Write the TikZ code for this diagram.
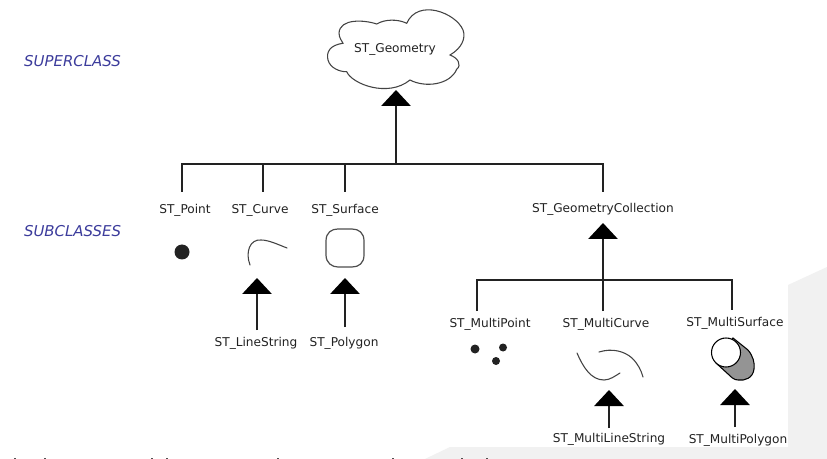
\documentclass[tikz,border=0pt]{standalone}
\usepackage{fontspec}
\setmainfont{DejaVu Sans}
\usetikzlibrary{arrows.meta}
\definecolor{inkc}{HTML}{222222}
\definecolor{headc}{HTML}{3C3C9C}
\definecolor{pagec}{HTML}{F1F1F1}
\tikzset{
  lbl/.style={font=\fontsize{9.1pt}{11pt}\selectfont, text=inkc, inner sep=0pt, anchor=center},
  head/.style={font=\fontsize{11.2pt}{13pt}\selectfont\itshape, text=headc, inner sep=0pt, anchor=center},
  bus/.style={draw=inkc, line width=1.5pt, line join=miter},
  inherit/.style={draw=inkc, line width=1.5pt, -{Triangle[width=22pt,length=12pt,color=black]}},
  shapeline/.style={draw=inkc!85, line width=0.8pt, line cap=round},
  dotm/.style={fill=inkc, draw=none},
}
\begin{document}
\begin{tikzpicture}[x=0.75pt,y=-0.75pt]
\useasboundingbox (0,0) rectangle (827,459);
\fill[white] (0,0) rectangle (827,459);
% page backdrop
\fill[pagec] (788,285) -- (827,267) -- (827,459) -- (425,459) -- (450,447) -- (788,447) -- cycle;
% section headings
\node[head] (super) at (72.5,61.5) {SUPERCLASS};
\node[head] (sub) at (72.5,231.5) {SUBCLASSES};
% cloud
\draw[draw=inkc!85, line width=0.8pt, fill=white]
  (346.7,71.7) .. controls (352,84) and (388,98) .. (410,80)
  .. controls (425,88) and (450,85) .. (456.7,69.3)
  .. controls (462,65) and (458,58) .. (450,55)
  .. controls (462,48) and (466,38) .. (463,30)
  .. controls (456,13) and (418,-2) .. (406.7,23.3)
  .. controls (398,19) and (385,19) .. (376.7,24)
  .. controls (365,20) and (340,18) .. (339,33)
  .. controls (339,38) and (342,41) .. (343,43.3)
  .. controls (330,45) and (326,52) .. (328,60)
  .. controls (330,68) and (340,72) .. (346.7,71.7) -- cycle;
\node[lbl] (geom) at (395,49) {ST\_Geometry};
% labels
\node[lbl] (point) at (185,210) {ST\_Point};
\node[lbl] (curve) at (260,210.5) {ST\_Curve};
\node[lbl] (surface) at (345,210.5) {ST\_Surface};
\node[lbl] (coll) at (603,209) {ST\_GeometryCollection};
\node[lbl] (lstr) at (256,343) {ST\_LineString};
\node[lbl] (poly) at (344,343) {ST\_Polygon};
\node[lbl] (mpoint) at (490,324) {ST\_MultiPoint};
\node[lbl] (mcurve) at (606,324) {ST\_MultiCurve};
\node[lbl] (msurf) at (735,323) {ST\_MultiSurface};
\node[lbl] (mlstr) at (609,439) {ST\_MultiLineString};
\node[lbl] (mpoly) at (738,440) {ST\_MultiPolygon};
% geometry symbols
\fill[dotm] (182,252) circle (7.5);
\draw[shapeline] (250,265) .. controls (245,252) and (250,239) .. (261,240) .. controls (269,240) and (279,245) .. (287,248);
\draw[draw=inkc!80, line width=0.9pt] (326,241) .. controls (326,232) and (332,229) .. (338,229) -- (352,229) .. controls (359,229) and (364,233) .. (364,241) -- (364,255) .. controls (364,263) and (359,267) .. (352,267) -- (338,267) .. controls (332,267) and (326,263) .. (326,255) -- cycle;
\fill[dotm] (475,349) circle (4.5);
\fill[dotm] (503,347.5) circle (4);
\fill[dotm] (496,361) circle (4);
\draw[shapeline] (577,353) .. controls (583,367) and (591,380) .. (604,380) .. controls (610,380) and (615,376) .. (620,373);
\draw[shapeline] (599,352) .. controls (612,348) and (624,351) .. (632,358) .. controls (638,364) and (641,370) .. (643,377);
\draw[draw=black, line width=0.8pt, fill=black!42] (733,338) -- (748,350) .. controls (753,356) and (755,363) .. (754,369) .. controls (753,378) and (745,381) .. (738,380) .. controls (734,380) and (731,377) .. (728,374) -- (716,363) -- cycle;
\draw[draw=black, line width=0.8pt, fill=white] (726,352.5) circle (14.5);
% tree coordinates
\coordinate (b1a) at (182,164);
\coordinate (b1b) at (263,164);
\coordinate (b1c) at (345,164);
\coordinate (b1d) at (603,164);
\coordinate (b1m) at (396,164);
\coordinate (d1a) at (182,192);
\coordinate (d1b) at (263,192);
\coordinate (d1c) at (345,192);
\coordinate (d1d) at (603,192);
\coordinate (tipg) at (396,90);
\coordinate (b2a) at (477,280);
\coordinate (b2b) at (603,280);
\coordinate (b2c) at (732,280);
\coordinate (d2a) at (477,311);
\coordinate (d2b) at (603,311);
\coordinate (d2c) at (732,310);
\coordinate (tipc) at (603,223);
\coordinate (tl1) at (257,278); \coordinate (sl1) at (257,330);
\coordinate (tl2) at (345,278); \coordinate (sl2) at (345,327);
\coordinate (tl3) at (609,390); \coordinate (sl3) at (609,428);
\coordinate (tl4) at (735,389); \coordinate (sl4) at (735,427);
% connectors
\draw[bus] (d1a) -- (b1a) -- (b1d) -- (d1d);
\draw[bus] (d1b) -- (b1b);
\draw[bus] (d1c) -- (b1c);
\draw[inherit] (b1m) -- (tipg);
\draw[bus] (d2a) -- (b2a) -- (b2c) -- (d2c);
\draw[inherit] (d2b) -- (tipc);
\draw[inherit] (sl1) -- (tl1);
\draw[inherit] (sl2) -- (tl2);
\draw[inherit] (sl3) -- (tl3);
\draw[inherit] (sl4) -- (tl4);
% cut-off line at the lower edge
\foreach \mx in {15,45,152,167,278,393,462,487}
  \fill[inkc!80] (\mx-0.8,457.5) rectangle (\mx+0.8,459);
\end{tikzpicture}
\end{document}
